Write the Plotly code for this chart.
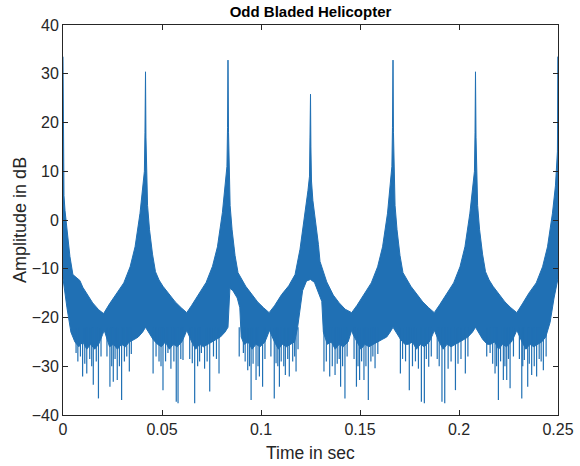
import plotly.graph_objects as go

# Upper edge of the dense signal band (time in s, amplitude in dB)
t_upper = [0.0, 0.0002, 0.0005, 0.001, 0.002, 0.0035, 0.005, 0.0065, 0.0085, 0.010, 0.012, 0.015, 0.018, 0.0205,
           0.0235, 0.027, 0.0307, 0.0339, 0.0364, 0.0389, 0.0404, 0.0411, 0.0414, 0.04167, 0.0419, 0.0422, 0.0427,
           0.0437, 0.0452, 0.0467, 0.0485, 0.0505, 0.0537, 0.0567, 0.0597, 0.0625,
           0.0650, 0.0687, 0.0723, 0.0755, 0.0780, 0.0805, 0.0820, 0.0828, 0.0831, 0.08333, 0.0836, 0.0839, 0.0844,
           0.0854, 0.0869, 0.0884, 0.0903, 0.0923, 0.0953, 0.0983, 0.1013, 0.1041,
           0.1068, 0.1104, 0.1140, 0.1172, 0.1197, 0.1222, 0.1237, 0.1245, 0.1248, 0.125, 0.1252, 0.1255, 0.1262,
           0.1270, 0.1290, 0.1298, 0.1332, 0.1365, 0.1395, 0.1425, 0.1458,
           0.1485, 0.1520, 0.1557, 0.1589, 0.1614, 0.1639, 0.1654, 0.1661, 0.1664, 0.16667, 0.1669, 0.1672, 0.1677,
           0.1687, 0.1702, 0.1717, 0.1737, 0.1757, 0.1787, 0.1817, 0.1847, 0.1875,
           0.1902, 0.1937, 0.1973, 0.2005, 0.2030, 0.2055, 0.2070, 0.2078, 0.2081, 0.20833, 0.2086, 0.2089, 0.2094,
           0.2104, 0.2119, 0.2134, 0.2152, 0.2172, 0.2202, 0.2232, 0.2262, 0.2292,
           0.2320, 0.2353, 0.2390, 0.2422, 0.2447, 0.2472, 0.2487, 0.2494, 0.2497, 0.25]
db_upper = [33.5, 18, 5, 2, -2, -7.5, -11.2, -11.8, -12.4, -13.8, -15, -17, -18.4, -19.2,
            -17.2, -15, -12.9, -9.6, -5.5, 1.4, 7, 10, 18, 30.4, 17, 8, 3,
            -2, -7, -10.6, -12.3, -13.6, -15.2, -16.8, -18, -19,
            -17.5, -15.2, -12.8, -9.5, -5.5, 1.5, 7, 11, 19, 32.8, 18, 9, 3,
            -2, -7.3, -10.8, -12.3, -13.6, -15.2, -16.8, -18, -19,
            -17.6, -15.3, -13.5, -11.2, -6, 1, 6, 9, 16, 25.8, 15, 8, 4,
            1.5, -5, -8.5, -12.7, -15.4, -17, -18.3, -19,
            -17.5, -15.2, -12.9, -9.6, -5.5, 1.4, 7, 11, 19, 32.8, 18, 9, 3,
            -2, -7.3, -10.8, -12.3, -13.6, -15.2, -16.8, -18, -19,
            -17.4, -15.1, -12.9, -9.6, -5.5, 1.4, 7, 10, 18, 30.4, 17, 8, 3,
            -2, -7, -10.6, -12.3, -13.6, -15.2, -16.8, -18, -19,
            -17.2, -15, -12.9, -9.6, -5.5, 1.4, 7, 11, 14, 33.5]

# Lower edge of the band
t_lower = [0.0, 0.0020, 0.0040, 0.0060, 0.0080, 0.0100, 0.0120, 0.0140, 0.0160, 0.0180, 0.0200, 0.0208,
           0.0216, 0.0235, 0.0255, 0.0275, 0.0295, 0.0315, 0.0335, 0.0360, 0.0380, 0.0402, 0.04167,
           0.0432, 0.0455, 0.0477, 0.0497, 0.0517, 0.0537, 0.0557, 0.0577, 0.0600, 0.0617, 0.0625,
           0.0633, 0.0650, 0.0670, 0.0690, 0.0710, 0.0730, 0.0750, 0.0775, 0.0795, 0.0818, 0.08333,
           0.0843, 0.0858, 0.0880, 0.0893, 0.0900, 0.0915, 0.0935, 0.0955, 0.0975, 0.0995, 0.1020, 0.1035, 0.1042,
           0.1050, 0.1068, 0.1088, 0.1108, 0.1128, 0.1150, 0.1170, 0.1185, 0.1197, 0.1210, 0.1230, 0.125,
           0.1270, 0.1290, 0.1307, 0.1315, 0.1335, 0.1355, 0.1375, 0.1395, 0.1415, 0.1440, 0.1452, 0.1458,
           0.1465, 0.1485, 0.1505, 0.1525, 0.1545, 0.1565, 0.1590, 0.1612, 0.1635, 0.1652, 0.16667,
           0.1682, 0.1705, 0.1726, 0.1745, 0.1765, 0.1785, 0.1805, 0.1825, 0.1850, 0.1867, 0.1875,
           0.1883, 0.1900, 0.1920, 0.1940, 0.1960, 0.1980, 0.2005, 0.2025, 0.2045, 0.2068, 0.20833,
           0.2098, 0.2120, 0.2143, 0.2160, 0.2180, 0.2200, 0.2220, 0.2240, 0.2265, 0.2283, 0.2292,
           0.2300, 0.2318, 0.2338, 0.2358, 0.2378, 0.2398, 0.2418, 0.2438, 0.2460, 0.2480, 0.25]
db_lower = [-12, -18, -23, -25, -26, -25, -26.5, -25.5, -26.5, -25.5, -23.5, -22.6,
            -23.5, -26, -25.5, -26.5, -25.5, -26, -25, -24.5, -24, -23, -22,
            -23, -24.5, -25.5, -26, -25, -26.5, -25.5, -26, -25, -23.5, -22.6,
            -23.5, -25, -26.5, -25.5, -26, -25.5, -25, -24.5, -24, -23, -22,
            -14, -14.5, -16, -18, -24, -25.5, -25, -26.5, -25.5, -26, -25, -23.5, -22.6,
            -23.5, -25, -26.5, -25.5, -26, -25.5, -25, -22, -18, -14.5, -12.5, -12.2,
            -12.8, -14.8, -16.7, -23, -25.5, -25, -26.5, -25.5, -26, -25, -23.5, -22.6,
            -23.5, -25, -26.5, -25.5, -26, -25.5, -25, -24.5, -24, -23, -22,
            -23, -24.5, -25.5, -25.5, -25, -26.5, -25.5, -26, -25, -23.5, -22.6,
            -23.5, -25, -26.5, -25.5, -26, -25.5, -25, -24.5, -24, -23, -22,
            -23, -24.5, -25.5, -25.5, -25, -26.5, -25.5, -26, -25, -23.5, -22.6,
            -23.5, -25, -26.5, -25.5, -26, -25.5, -25, -24, -21, -16, -12]

# Deep downward dips below the band
dip_t = [0.0066, 0.0099, 0.0120, 0.0153, 0.0179, 0.0237, 0.0254, 0.0274, 0.0296, 0.0335,
         0.0455, 0.0505, 0.0530, 0.0572, 0.0581, 0.0606, 0.0653, 0.0665, 0.0699, 0.0741, 0.0788,
         0.0911, 0.0933, 0.0950, 0.0975, 0.0992, 0.1008, 0.1067, 0.1076, 0.1093, 0.1123, 0.1143, 0.1177, 0.1187,
         0.1318, 0.1347, 0.1374, 0.1402, 0.1424, 0.1482, 0.1498, 0.1520, 0.1542, 0.1576,
         0.1704, 0.1749, 0.1810, 0.1825, 0.1847, 0.1914, 0.1928, 0.1982, 0.2032,
         0.2157, 0.2182, 0.2199, 0.2224, 0.2241, 0.2258, 0.2317, 0.2330, 0.2347, 0.2367, 0.2392, 0.2426]
dip_db = [-27.3, -32.1, -31.5, -33.8, -36.6, -34.2, -33.2, -32.8, -36.9, -31.1,
          -31.5, -34.9, -27.3, -37.3, -37.6, -28.7, -29.4, -37.6, -27.3, -35.2, -31.5,
          -27.3, -30.8, -36.9, -32.8, -32.1, -34.2, -36.6, -29.4, -34.2, -31.8, -32.1, -31.1, -26.5,
          -31.1, -32.1, -31.8, -34.2, -36.6, -34.2, -32.8, -32.8, -36.9, -30.4,
          -31.5, -34.9, -37.3, -37.6, -30.1, -37.3, -37.6, -34.9, -31.5,
          -27.3, -31.5, -36.9, -32.8, -32.8, -34.5, -36.6, -28.7, -34.2, -31.8, -32.1, -30.8]

# Shallower notches that give the band its ragged lower edge
notch_t = [0.0075, 0.0088, 0.0110, 0.0135, 0.0145, 0.0168, 0.0192, 0.0222, 0.0246, 0.0263, 0.0285, 0.0310, 0.0322, 0.0345,
           0.0470, 0.0485, 0.0495, 0.0518, 0.0545, 0.0560, 0.0595, 0.0640, 0.0680, 0.0690, 0.0715, 0.0728, 0.0760, 0.0775,
           0.0890, 0.0920, 0.0942, 0.0960, 0.0985, 0.1020, 0.1050, 0.1085, 0.1102, 0.1115, 0.1135, 0.1160, 0.1170,
           0.1330, 0.1360, 0.1385, 0.1395, 0.1412, 0.1435, 0.1470, 0.1490, 0.1508, 0.1530, 0.1555, 0.1565, 0.1590,
           0.1715, 0.1730, 0.1765, 0.1780, 0.1795, 0.1835, 0.1860, 0.1890, 0.1900, 0.1945, 0.1960, 0.1995, 0.2010, 0.2045,
           0.2140, 0.2170, 0.2190, 0.2210, 0.2232, 0.2250, 0.2275, 0.2305, 0.2322, 0.2355, 0.2380, 0.2405, 0.2415, 0.2440]
notch_db = [-29, -28, -29.5, -28.5, -30, -29, -28, -28, -30, -28.5, -30, -29, -28, -27.5,
            -28, -29, -30, -29, -30.5, -29, -28.5, -28.5, -30, -29, -30.5, -29, -28, -28.5,
            -28, -29, -30, -29.5, -30, -28.5, -28, -30, -29, -30, -28.5, -29, -28,
            -29, -30, -29.5, -28.5, -30, -28, -28.5, -30, -29, -30, -29, -28, -27.5,
            -28.5, -29, -30, -29, -30.5, -28.5, -28, -28.5, -30, -30.5, -29, -29.5, -28.5, -28,
            -28, -29.5, -30, -29, -30, -28.5, -28, -28.5, -30, -29.5, -30, -28.5, -29, -28]

blue = '#2070b4'
font_family = 'Liberation Sans, Arial, sans-serif'

fig = go.Figure()

# band outline: upper edge left to right, then lower edge back
fig.add_trace(go.Scatter(
    x=t_upper + t_lower[::-1],
    y=db_upper + db_lower[::-1],
    mode='lines', fill='toself', fillcolor=blue,
    line=dict(color=blue, width=1), hoverinfo='skip'))

dx, dy = [], []
for t, v in zip(dip_t + notch_t, dip_db + notch_db):
    dx += [t, t, None]
    dy += [-22, v, None]
fig.add_trace(go.Scatter(x=dx, y=dy, mode='lines', line=dict(color=blue, width=1.2), hoverinfo='skip'))

axis_style = dict(
    showline=True, linecolor='#262626', linewidth=1, mirror='ticks',
    ticks='inside', ticklen=5, tickcolor='#262626', showgrid=False, zeroline=False,
    automargin=False,
    tickfont=dict(family=font_family, size=16, color='#262626'),
)

fig.update_layout(
    width=580, height=466,
    paper_bgcolor='white', plot_bgcolor='white',
    showlegend=False,
    margin=dict(l=63, r=22, t=25, b=51),
    title=dict(text='<b>Odd Bladed Helicopter</b>', xref='paper', x=0.5, xanchor='center',
               yref='container', y=0.975, yanchor='middle',
               font=dict(family=font_family, size=15, color='black')),
    xaxis=dict(range=[0, 0.25], tickvals=[0, 0.05, 0.1, 0.15, 0.2, 0.25],
               ticktext=['0', '0.05', '0.1', '0.15', '0.2', '0.25'], **axis_style),
    yaxis=dict(range=[-40, 40], dtick=10, **axis_style),
)

# axis titles placed as in the original figure
fig.add_annotation(text='Time in sec', xref='paper', yref='paper', x=0.5, y=-0.097,
                   xanchor='center', yanchor='middle', showarrow=False,
                   font=dict(family=font_family, size=17.5, color='#262626'))
fig.add_annotation(text='Amplitude in dB', xref='paper', yref='paper', x=-0.087, y=0.5,
                   textangle=-90, xanchor='center', yanchor='middle', showarrow=False,
                   font=dict(family=font_family, size=18, color='#262626'))

# the page's default body margin would shift the figure by 8px
fig.write_html("out.html", config={'displayModeBar': False},
               post_script="document.body.style.margin='0px';")
